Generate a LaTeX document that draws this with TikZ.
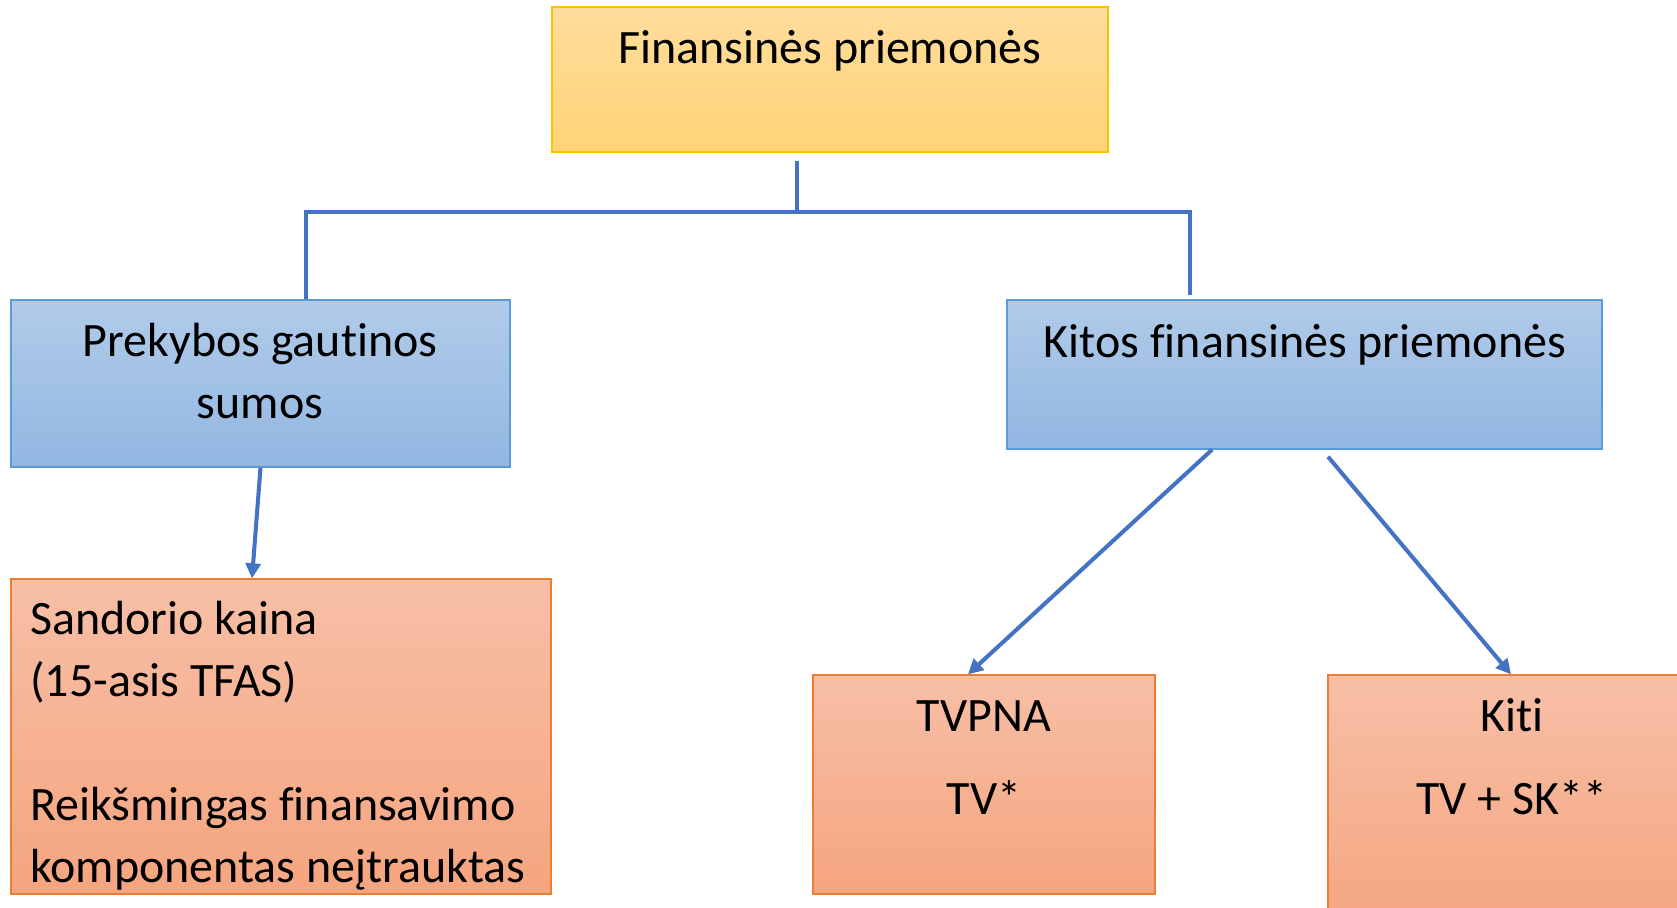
\documentclass[tikz,border=0pt]{standalone}
\usepackage{fontspec}
\setmainfont[Ligatures={NoCommon}]{Carlito}
\usetikzlibrary{arrows.meta}
\definecolor{goldedge}{HTML}{FFC000}
\definecolor{goldtop}{HTML}{FFDC9C}
\definecolor{goldbot}{HTML}{FFD477}
\definecolor{blueedge}{HTML}{5B9BD5}
\definecolor{bluetop}{HTML}{B1CBE9}
\definecolor{bluebot}{HTML}{92B7E2}
\definecolor{saledge}{HTML}{ED7D31}
\definecolor{saltop}{HTML}{F7BFA7}
\definecolor{salbot}{HTML}{F5A57F}
\definecolor{linkc}{HTML}{4472C4}
\tikzset{
  box/.style={rectangle, line width=0.8pt, inner sep=0pt},
  goldbox/.style={box, draw=goldedge, top color=goldtop, bottom color=goldbot},
  bluebox/.style={box, draw=blueedge, top color=bluetop, bottom color=bluebot},
  salbox/.style={box, draw=saledge, top color=saltop, bottom color=salbot},
  lab/.style={inner sep=0pt, anchor=base, align=center, text=black,
    font=\fontsize{27.3}{35.2}\selectfont},
  link/.style={draw=linkc, line width=2.3pt},
  arr/.style={link, -{Triangle[length=0.3cm,width=0.3cm]}},
}

\begin{document}
\begin{tikzpicture}[x=0.02cm,y=-0.02cm]
  \useasboundingbox (0,0) rectangle (1677,907);
  \node[goldbox, minimum width=11.12cm, minimum height=2.9cm] (fin) at (830,79.5) {};
  \node[bluebox, minimum width=9.98cm, minimum height=3.34cm] (prek) at (260.5,383.5) {};
  \node[bluebox, minimum width=11.9cm, minimum height=2.98cm] (kitos) at (1304.5,374.5) {};
  \node[salbox, minimum width=10.8cm, minimum height=6.3cm] (sand) at (281,736.5) {};
  \node[salbox, minimum width=6.84cm, minimum height=4.38cm] (tvpna) at (984,784.5) {};
  \node[salbox, minimum width=7.64cm, minimum height=5.2cm] (kiti) at (1519,805) {};

  % multi-line labels sit on the baseline of their last line
  \node[lab] (finT) at (830,63) {Finansinės priemonės};
  \node[lab] (prekT) at (260,418) {Prekybos gautinos\\sumos};
  \node[lab] (kitosT) at (1305,357) {Kitos finansinės priemonės};
  \node[lab, anchor=base west, align=left] (sandT) at (30,882)
    {Sandorio kaina\\(15-asis TFAS)\\[1.24cm]Reikšmingas finansavimo\\komponentas neįtrauktas};
  \node[lab] (tvpnaT) at (984,814) {TVPNA\\[0.42cm]TV*};
  \node[lab] (kitiT) at (1512,814) {Kiti\\[0.42cm]TV + SK**};

  \coordinate (forkM) at (797,212);
  \coordinate (forkL) at (306,212);
  \coordinate (forkR) at (1190,212);
  \draw[link] ([yshift=-0.16cm]fin.south -| forkM) -- (forkM);
  \draw[link] (forkL |- prek.north) -- (forkL) -- (forkR) -- ([yshift=0.08cm]forkR |- kitos.north);

  \draw[arr] (prek.south) -- ([xshift=-0.58cm]sand.north);
  \draw[arr] ([xshift=-1.85cm]kitos.south) -- ([xshift=-0.32cm]tvpna.north);
  \draw[arr] ([xshift=0.47cm,yshift=-0.14cm]kitos.south) -- ([xshift=-0.16cm]kiti.north);
\end{tikzpicture}
\end{document}
